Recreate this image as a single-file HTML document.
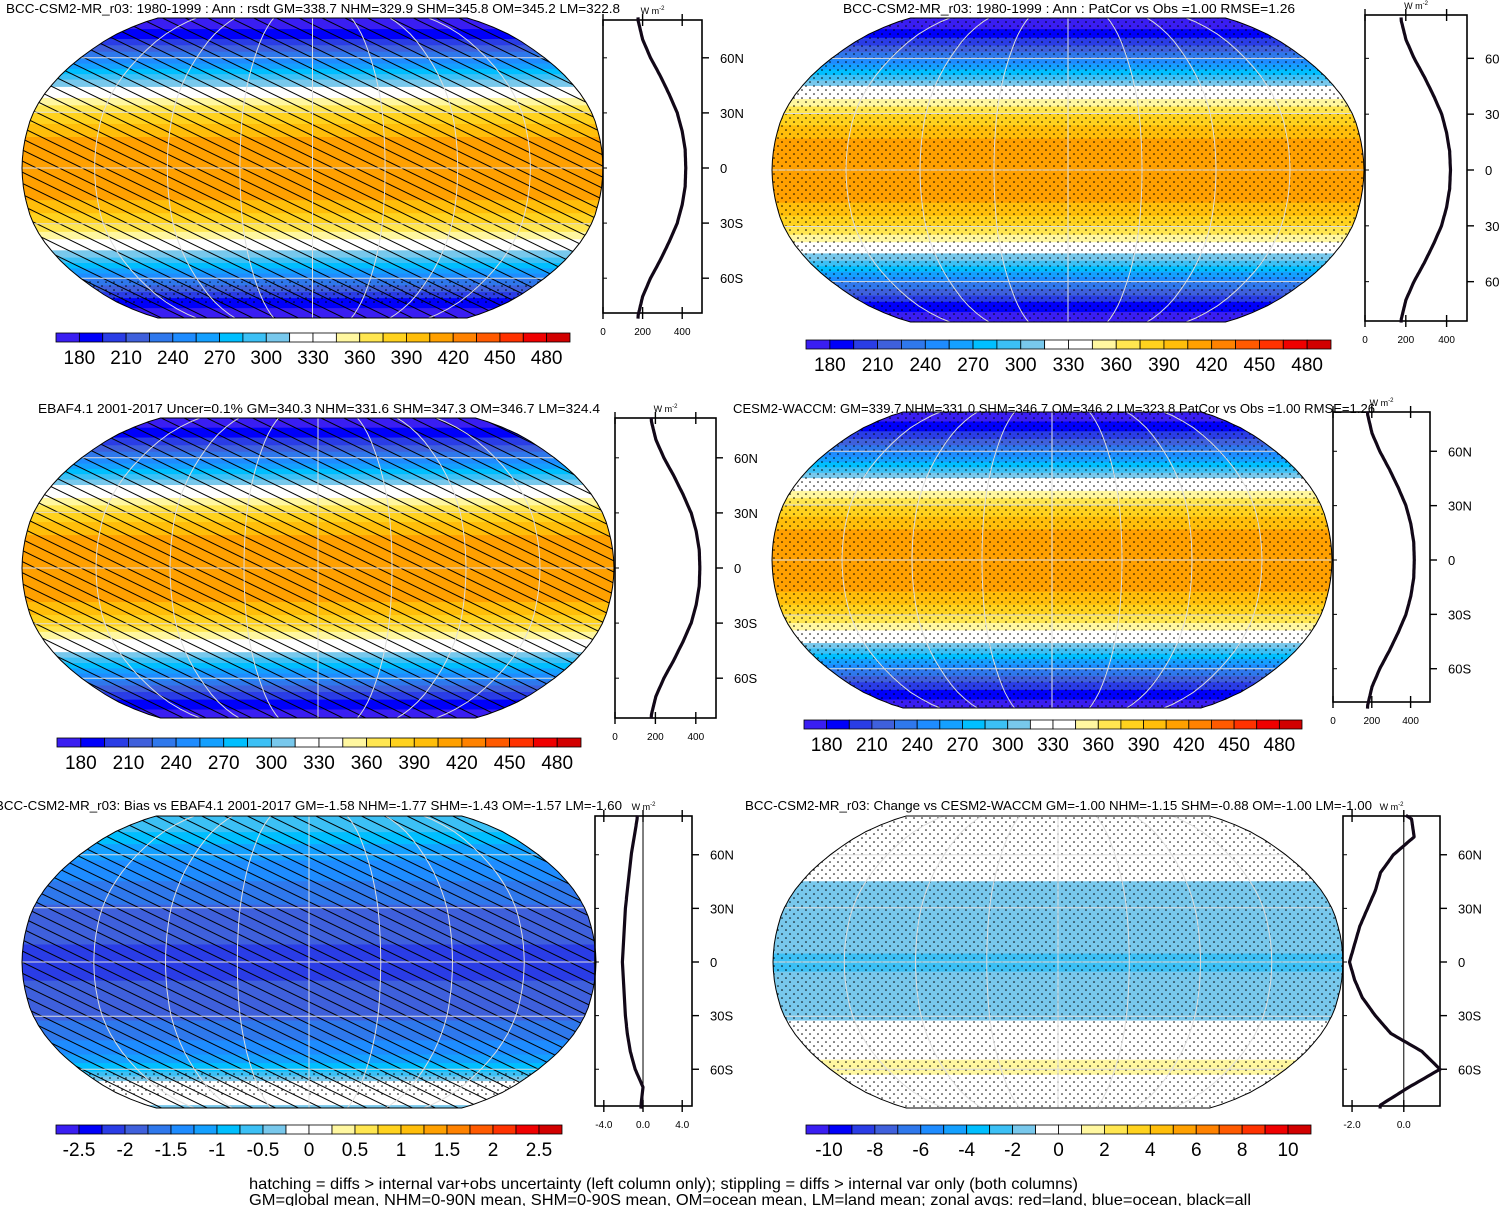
<!DOCTYPE html>
<html><head><meta charset="utf-8"><style>
html,body{margin:0;padding:0;background:#fff}
svg{display:block;font-family:"Liberation Sans",sans-serif}
</style></head><body>
<svg id="fig" width="1500" height="1206" viewBox="0 0 1500 1206" xmlns="http://www.w3.org/2000/svg">
<defs>
<pattern id="hatch" patternUnits="userSpaceOnUse" width="10" height="10" patternTransform="rotate(26)">
<line x1="0" y1="5" x2="10" y2="5" stroke="#000" stroke-width="1"/></pattern>
<pattern id="stip" patternUnits="userSpaceOnUse" width="8" height="8">
<circle cx="2" cy="2" r="0.8" fill="#000"/><circle cx="6" cy="6" r="0.8" fill="#000"/></pattern>
</defs>
<text x="249" y="1189" font-size="16" textLength="829" lengthAdjust="spacingAndGlyphs">hatching = diffs &gt; internal var+obs uncertainty (left column only); stippling = diffs &gt; internal var only (both columns)</text>
<text x="249" y="1205" font-size="16" textLength="1002" lengthAdjust="spacingAndGlyphs">GM=global mean, NHM=0-90N mean, SHM=0-90S mean, OM=ocean mean, LM=land mean; zonal avgs: red=land, blue=ocean, black=all</text>
</svg>
<script>
// ---- data ----
const lats = [-90,-80,-70,-60,-50,-40,-30,-20,-10,0,10,20,30,40,50,60,70,80,90];
const p1Vals = [173,178,200,240,290,335,375,400,415,418,415,400,375,335,290,240,200,178,173];
const p2Vals = [173,178,200,240,290,335,375,400,415,419,415,400,376,336,291,241,201,178,173];
const p3Vals = [175,180,202,242,292,337,377,402,417,420,417,402,377,337,292,242,202,180,175];
const p4Vals = [174,179,201,241,291,336,376,401,416,419,416,401,376,336,291,241,201,179,174];
const p5Vals = [-0.3,-0.2,0.0,-0.8,-1.3,-1.6,-1.8,-1.9,-2.0,-2.1,-2.0,-1.9,-1.8,-1.6,-1.4,-1.2,-0.9,-0.6,-0.5];
const p6Vals = [-1.0,-0.9,0.2,1.4,0.7,-0.5,-1.1,-1.6,-1.9,-2.1,-1.9,-1.7,-1.4,-1.1,-0.9,-0.4,0.4,0.3,-0.8];
const absLevels = [180,195,210,225,240,255,270,285,300,315,330,345,360,375,390,405,420,435,450,465,480];
const absLabels = ["180","210","240","270","300","330","360","390","420","450","480"];
const biasLevels = [-2.5,-2.25,-2,-1.75,-1.5,-1.25,-1,-0.75,-0.5,-0.25,0,0.25,0.5,0.75,1,1.25,1.5,1.75,2,2.25,2.5];
const biasLabels = ["-2.5","-2","-1.5","-1","-0.5","0","0.5","1","1.5","2","2.5"];
const chgLevels = [-10,-9,-8,-7,-6,-5,-4,-3,-2,-1,0,1,2,3,4,5,6,7,8,9,10];
const chgLabels = ["-10","-8","-6","-4","-2","0","2","4","6","8","10"];
const colors = ["#3a1ef2","#0000fa","#2a3de6","#3f60dc","#2f78ec","#1e8cff","#14a0ff","#00bfff","#3cc0f5","#78c8ec","#ffffff","#ffffff","#fff7a0","#ffe650","#ffd21e","#ffbe0a","#ffa000","#ff8200","#ff5a00","#ff3200","#f00000","#d20000"];
const absTicks = [0,200,400];
const biasTicks = [-4,0,4];
const chgTicks = [-2,0];
// ---- helpers ----
const NS="http://www.w3.org/2000/svg", svg=document.getElementById('fig');
const RX=[1,.9986,.9954,.99,.9822,.973,.96,.9427,.9216,.8962,.8679,.835,.7986,.7597,.7186,.6732,.6213,.5722,.5322];
const RY=[0,.062,.124,.186,.248,.31,.372,.434,.4958,.5571,.6176,.6769,.7346,.7903,.8435,.8936,.9394,.9761,1];
function rob(t,lat){const a=Math.abs(lat)/5,i=Math.min(17,Math.floor(a)),f=a-i;return t[i]+(t[i+1]-t[i])*f;}
function el(tag,attrs,parent){const e=document.createElementNS(NS,tag);for(const k in attrs)e.setAttribute(k,attrs[k]);(parent||svg).appendChild(e);return e;}
function interp(vals,lat){const a=(lat+90)/10,i=Math.min(17,Math.floor(a)),f=a-i;return vals[i]+(vals[i+1]-vals[i])*f;}
function colorFor(v,levels){let i=0;while(i<levels.length&&v>=levels[i])i++;return colors[i];}
function fmt(v,dec){return v.toFixed(dec);}

function panel(c){
  const g=el('g',{});
  
  
  const cx=c.cx,cy=c.cy,hw=c.hw,hh=c.hh;
  const X=(lat,lon)=>cx+hw*rob(RX,lat)*lon/180;
  const Y=lat=>cy-Math.sign(lat)*hh*rob(RY,lat);
  let d='';
  for(let la=90;la>=-90;la-=2.5){d+=(d?'L':'M')+X(la,180).toFixed(1)+','+Y(la).toFixed(1);}
  for(let la=-90;la<=90;la+=2.5){d+='L'+X(la,-180).toFixed(1)+','+Y(la).toFixed(1);}
  d+='Z';
  const cid='clip'+c.id;
  const cp=el('clipPath',{id:cid},g);el('path',{d:d},cp);
  const mg=el('g',{'clip-path':'url(#'+cid+')'},g);
  
  
  for(let la=-90;la<90;la+=1){
    const v=interp(c.vals,la+0.5);
    const r=el('rect',{x:cx-hw-2,y:Y(la+1),width:2*hw+4,height:Y(la)-Y(la+1)+0.6,fill:colorFor(v,c.levels)},mg);
    
    
  }
  if(c.hatch) el('rect',{x:cx-hw,y:cy-hh,width:2*hw,height:2*hh,fill:'url(#hatch)'},mg);
  if(c.stip) el('rect',{x:cx-hw,y:c.stipTop?Y(c.stipTop):cy-hh,width:2*hw,height:c.stipTop?Y(c.stipBot)-Y(c.stipTop):2*hh,fill:'url(#stip)'},mg);
  [-60,-30,0,30,60].forEach(la=>{const l=el('line',{x1:cx-hw,x2:cx+hw,y1:Y(la),y2:Y(la),stroke:'#ddd','stroke-width':1},mg);
    });
  [-135,-90,-45,0,45,90,135].forEach(lo=>{let p='';for(let la=90;la>=-90;la-=5)p+=(p?'L':'M')+X(la,lo).toFixed(1)+','+Y(la).toFixed(1);
    const l=el('path',{d:p,stroke:'#ddd','stroke-width':1,fill:'none'},mg);
    });
  el('path',{d:d,fill:'none',stroke:'#000','stroke-width':1},g);
  const t=el('text',{x:c.tx,y:c.ty,'font-size':12.5,textLength:c.tw,lengthAdjust:'spacingAndGlyphs'},g);
  t.textContent=c.title;
  const bx0=c.bx0,bx1=c.bx1,by0=c.by0,by1=c.by1;
  const ls=hh*0.7346/60;
  const sy=lat=>cy-lat*ls;
  const sx=v=>bx0+(v-c.xmin)/(c.xmax-c.xmin)*(bx1-bx0);
  const sg=el('g',{},g);
  
  el('rect',{x:bx0,y:by0,width:bx1-bx0,height:by1-by0,fill:'none',stroke:'#000','stroke-width':1.6},sg);
  if(c.zeroLine) el('line',{x1:sx(0),x2:sx(0),y1:by0,y2:by1,stroke:'#000','stroke-width':1},sg);
  [60,30,0,-30,-60].forEach(la=>{
    el('line',{x1:bx1,x2:bx1+7,y1:sy(la),y2:sy(la),stroke:'#000','stroke-width':1.4},sg);
    el('line',{x1:bx0,x2:bx0+4,y1:sy(la),y2:sy(la),stroke:'#000','stroke-width':1},sg);
    const lt=el('text',{x:bx1+18,y:sy(la)+5,'font-size':13},sg);
    lt.textContent=la===0?'0':Math.abs(la)+(la>0?'N':'S');
    
  });
  c.ticks.forEach(v=>{
    [by0,by1].forEach(yy=>el('line',{x1:sx(v),x2:sx(v),y1:yy-6,y2:yy+6,stroke:'#000','stroke-width':1.4},sg));
    const xt=el('text',{x:sx(v),y:by1+22,'font-size':10,'text-anchor':'middle'},sg);
    xt.textContent=c.tickDec?fmt(v,1):String(v);
    
  });
  const wl=el('text',{x:(bx0+bx1)/2,y:by0-6,'font-size':9,'text-anchor':'middle'},sg);
  wl.innerHTML='W m<tspan dy="-4" font-size="6">-2</tspan>';
  
  let pd='';
  for(let la=-82;la<=82;la+=1){pd+=(pd?'L':'M')+sx(interp(c.vals,la)).toFixed(1)+','+sy(la).toFixed(1);}
  const pl=el('path',{d:pd,fill:'none',stroke:'#120818','stroke-width':3.2,'stroke-linejoin':'round'},sg);
  
  const cb=el('g',{},g);
  
  const n=colors.length,bw=(c.cb1-c.cb0)/n;
  colors.forEach((col,i)=>{const r=el('rect',{x:c.cb0+i*bw,y:c.cby,width:bw,height:9,fill:col,stroke:'#000','stroke-width':0.8},cb);
    });
  c.labels.forEach((lab,k)=>{const tt=el('text',{x:c.cb0+(2*k+1)*bw,y:c.cby+31,'font-size':19,'text-anchor':'middle'},cb);
    tt.textContent=lab;});
}

panel({id:'p1',name:'panel-model-rsdt',vals:p1Vals,levels:absLevels,labels:absLabels,cx:312.5,cy:168,hw:290.5,hh:150,hatch:true,stip:true,stipTop:-62,stipBot:-76,
  title:'BCC-CSM2-MR_r03: 1980-1999 : Ann : rsdt GM=338.7 NHM=329.9 SHM=345.8 OM=345.2 LM=322.8',tx:6,ty:13,tw:614,
  bx0:603,bx1:702,by0:20,by1:313,xmin:0,xmax:500,ticks:absTicks,cb0:56,cb1:570,cby:333});
panel({id:'p2',name:'panel-model-patcor',vals:p2Vals,levels:absLevels,labels:absLabels,cx:1068,cy:170,hw:296,hh:152,stip:true,
  title:'BCC-CSM2-MR_r03: 1980-1999 : Ann : PatCor vs Obs =1.00 RMSE=1.26',tx:843,ty:13,tw:452,
  bx0:1365,bx1:1467,by0:15,by1:321,xmin:0,xmax:500,ticks:absTicks,cb0:806,cb1:1331,cby:340});
panel({id:'p3',name:'panel-ebaf-obs',vals:p3Vals,levels:absLevels,labels:absLabels,cx:318,cy:568,hw:296,hh:150,hatch:true,
  title:'EBAF4.1 2001-2017 Uncer=0.1% GM=340.3 NHM=331.6 SHM=347.3 OM=346.7 LM=324.4',tx:38,ty:413,tw:562,
  bx0:615,bx1:716,by0:418,by1:718,xmin:0,xmax:500,ticks:absTicks,cb0:57,cb1:581,cby:738});
panel({id:'p4',name:'panel-cesm2-waccm',vals:p4Vals,levels:absLevels,labels:absLabels,cx:1052,cy:560,hw:280,hh:148,stip:true,
  title:'CESM2-WACCM: GM=339.7 NHM=331.0 SHM=346.7 OM=346.2 LM=323.8 PatCor vs Obs =1.00 RMSE=1.26',tx:733,ty:413,tw:642,
  bx0:1333,bx1:1430,by0:412,by1:702,xmin:0,xmax:500,ticks:absTicks,cb0:804,cb1:1302,cby:720});
panel({id:'p5',name:'panel-bias-vs-ebaf',vals:p5Vals,levels:biasLevels,labels:biasLabels,cx:309,cy:962,hw:287,hh:146,hatch:true,stip:true,stipTop:-62,stipBot:-78,
  title:'BCC-CSM2-MR_r03: Bias vs EBAF4.1 2001-2017 GM=-1.58 NHM=-1.77 SHM=-1.43 OM=-1.57 LM=-1.60',tx:-5,ty:810,tw:627,
  bx0:595,bx1:692,by0:816,by1:1106,xmin:-4.9,xmax:5.0,ticks:biasTicks,tickDec:true,zeroLine:true,cb0:56,cb1:562,cby:1125});
panel({id:'p6',name:'panel-change-vs-cesm2',vals:p6Vals,levels:chgLevels,labels:chgLabels,cx:1058,cy:962,hw:285,hh:146,stip:true,
  title:'BCC-CSM2-MR_r03: Change vs CESM2-WACCM GM=-1.00 NHM=-1.15 SHM=-0.88 OM=-1.00 LM=-1.00',tx:745,ty:810,tw:627,
  bx0:1343,bx1:1440,by0:816,by1:1106,xmin:-2.35,xmax:1.4,ticks:chgTicks,tickDec:true,zeroLine:true,cb0:806,cb1:1311,cby:1125});
</script>
</body></html>
